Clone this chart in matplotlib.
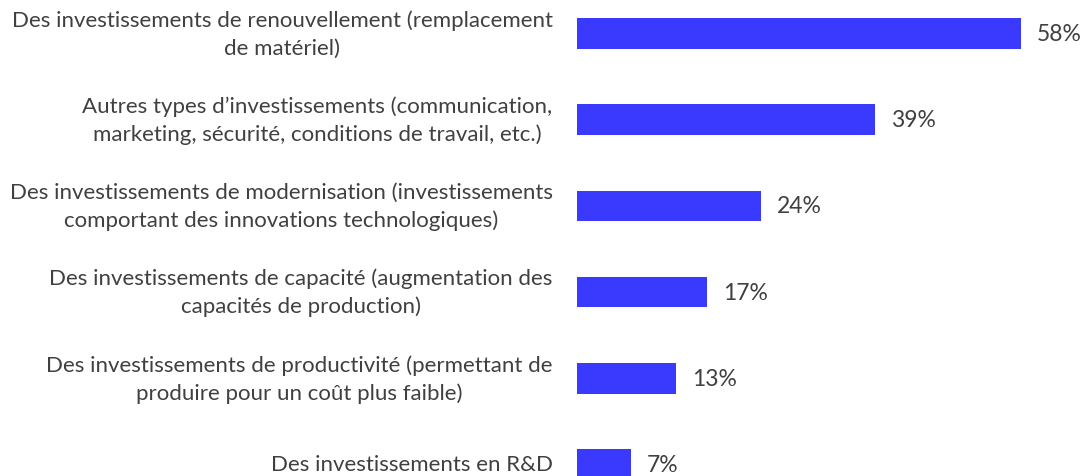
import matplotlib.pyplot as plt

categories = [
    "Des investissements de renouvellement (remplacement\nde matériel)",
    "Autres types d\u2019investissements (communication,\nmarketing, sécurité, conditions de travail, etc.)",
    "Des investissements de modernisation (investissements\ncomportant des innovations technologiques)",
    "Des investissements de capacité (augmentation des\ncapacités de production)",
    "Des investissements de productivité (permettant de\nproduire pour un coût plus faible)",
    "Des investissements en R&D",
]
values = [58, 39, 24, 17, 13, 7]

plt.rcParams['font.family'] = ['Lato', 'DejaVu Sans']

fig = plt.figure(figsize=(10.92, 4.77), dpi=100)
ax = fig.add_axes([577 / 1092, 0, 1 - 577 / 1092, 1])

pos = list(range(len(values)))
ax.barh(pos, values, height=0.355, color='#3a3aff')

ax.set_xlim(0, 515 / 7.65)
# centres at 34.5 px, spacing 86.2 px
ax.set_ylim((477 - 34.5) / 86.2, -34.5 / 86.2)

for i, v in enumerate(values):
    ax.text(v + 2.1, i, f"{v}%", va='center', ha='left', fontsize=16.5, color='#404040')
    ax.text(-3.2, i, categories[i], va='center', ha='right', multialignment='center',
            fontsize=16, linespacing=1.45, color='#404040', clip_on=False)

ax.axis('off')
fig.savefig('out.png', dpi=100)
